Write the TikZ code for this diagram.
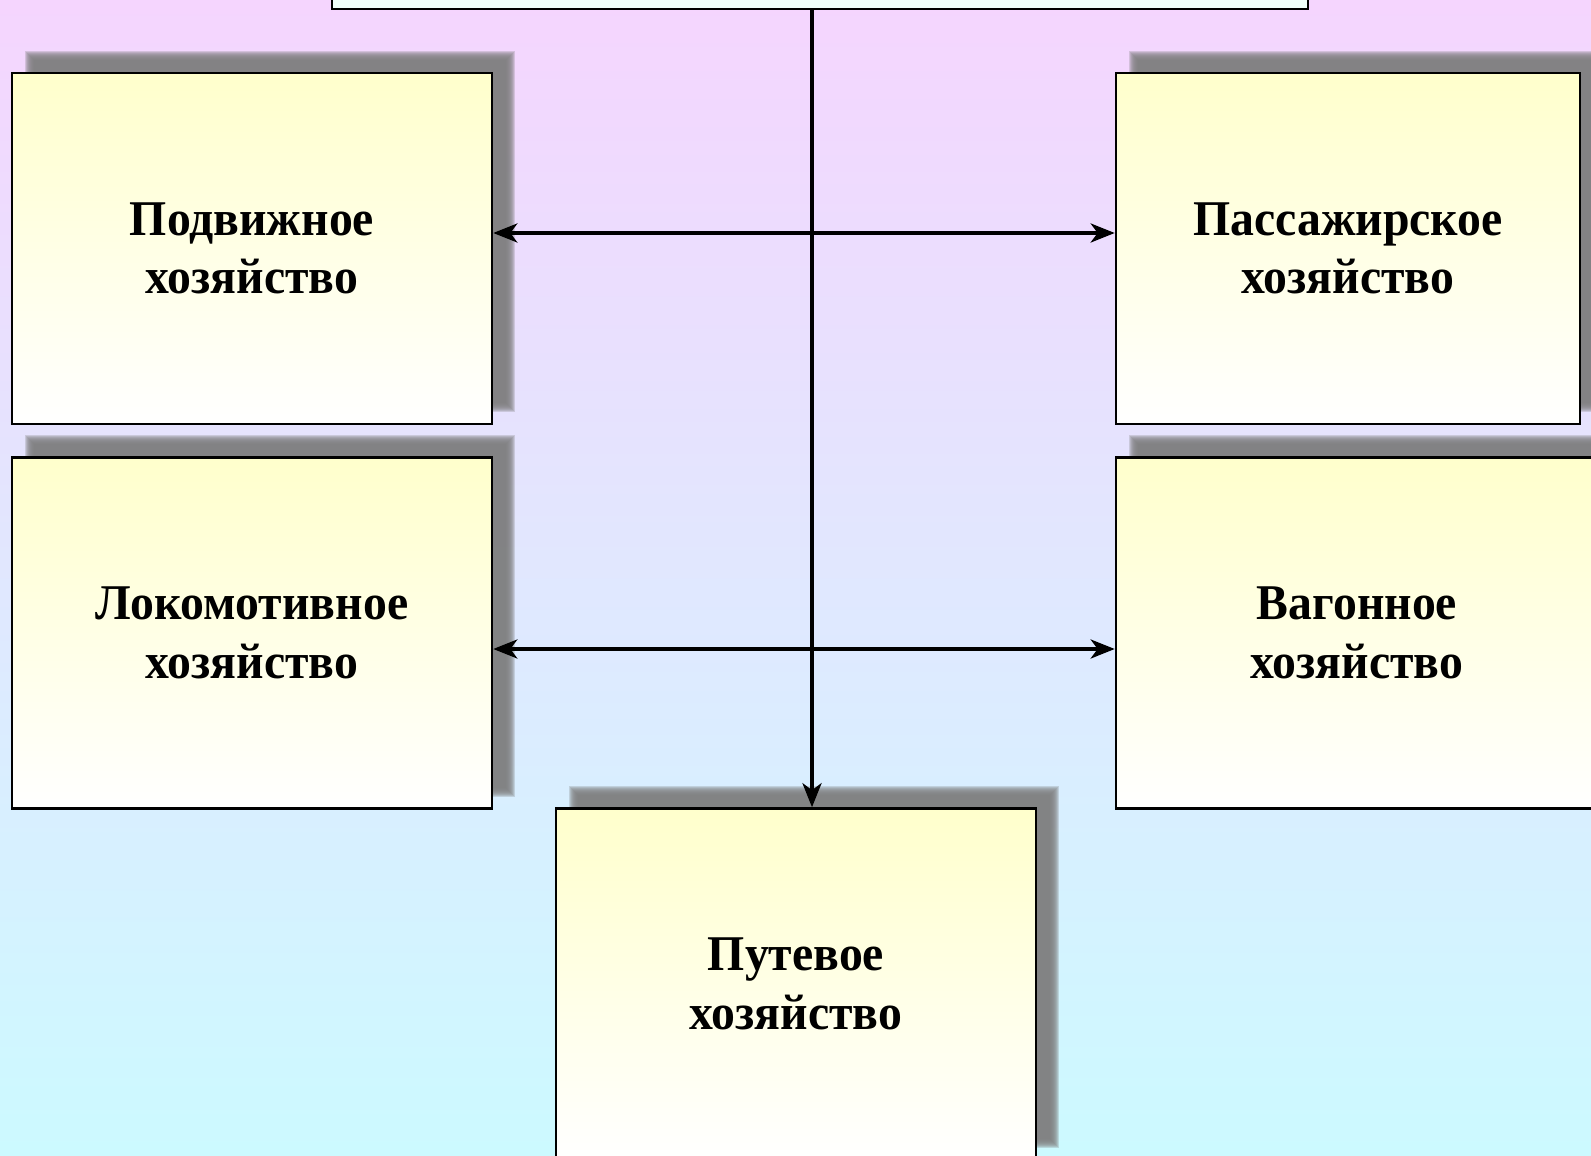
\documentclass[tikz,border=0pt]{standalone}
\usepackage{fontspec}
\setmainfont{Liberation Serif}
\newfontfamily\boxfont[FakeStretch=0.955]{Liberation Serif}
\usetikzlibrary{arrows.meta}
\definecolor{bgtop}{RGB}{245,213,254}
\definecolor{bgbot}{RGB}{204,250,255}
\definecolor{boxtop}{RGB}{255,255,204}
\definecolor{titlefill}{RGB}{240,255,250}
\definecolor{shadowgray}{RGB}{128,128,128}
\pgfdeclarelayer{backlayer}
\pgfdeclarelayer{shadowlayer}
\pgfsetlayers{backlayer,shadowlayer,main}
\tikzset{
  unitbox/.style={draw=black, line width=1.3pt, rectangle, inner sep=0pt,
    top color=boxtop, bottom color=white, minimum width=240pt,
    minimum height=175.5pt, align=center,
    font=\boxfont\bfseries\fontsize{25pt}{29.3pt}\selectfont},
  titlebox/.style={draw=black, line width=1.3pt, rectangle, inner sep=0pt,
    fill=titlefill, minimum width=488pt, minimum height=154.5pt},
  link/.style={line width=2pt, draw=black},
  shadowlayerfill/.style={fill=shadowgray, opacity=0.27}
}
\begin{document}
\begin{tikzpicture}[x=0.5pt,y=-0.5pt,>={Stealth[length=12pt,width=9.5pt,inset=3.5pt]}]
\useasboundingbox (0,0) rectangle (1591,1156);
\begin{pgfonlayer}{backlayer}
\shade[top color=bgtop,bottom color=bgbot] (0,0) rectangle (1591,1156);
\end{pgfonlayer}

\node[titlebox] (T) at (820,-145.5) {};
\node[unitbox] (A) at (252,248.5) {Подвижное\\хозяйство};
\node[unitbox] (B) at (252,633) {Локомотивное\\хозяйство};
\node[unitbox,minimum width=232pt] (C) at (1348,248.5) {Пассажирское\\хозяйство};
\node[unitbox,minimum width=241pt] (D) at (1357,633) {Вагонное\\хозяйство};
\node[unitbox] (E) at (796,984) {Путевое\\хозяйство};

\begin{pgfonlayer}{shadowlayer}
\foreach \n in {A,B,C,D,E}{
  \foreach \e in {0,...,9}{
    \path[shadowlayerfill] ([shift={({23-\e},{-22+\e})}]\n.south west) rectangle ([shift={({13+\e},{-12-\e})}]\n.north east);
  }
}
\end{pgfonlayer}

\coordinate (vx) at (812,0);
\coordinate (h1) at (0,233);
\coordinate (h2) at (0,649);
\draw[link,<->] (A.east |- h1) -- (C.west |- h1);
\draw[link,<->] (B.east |- h2) -- (D.west |- h2);
\draw[link,->] (T.south -| vx) -- (E.north -| vx);
\end{tikzpicture}
\end{document}
